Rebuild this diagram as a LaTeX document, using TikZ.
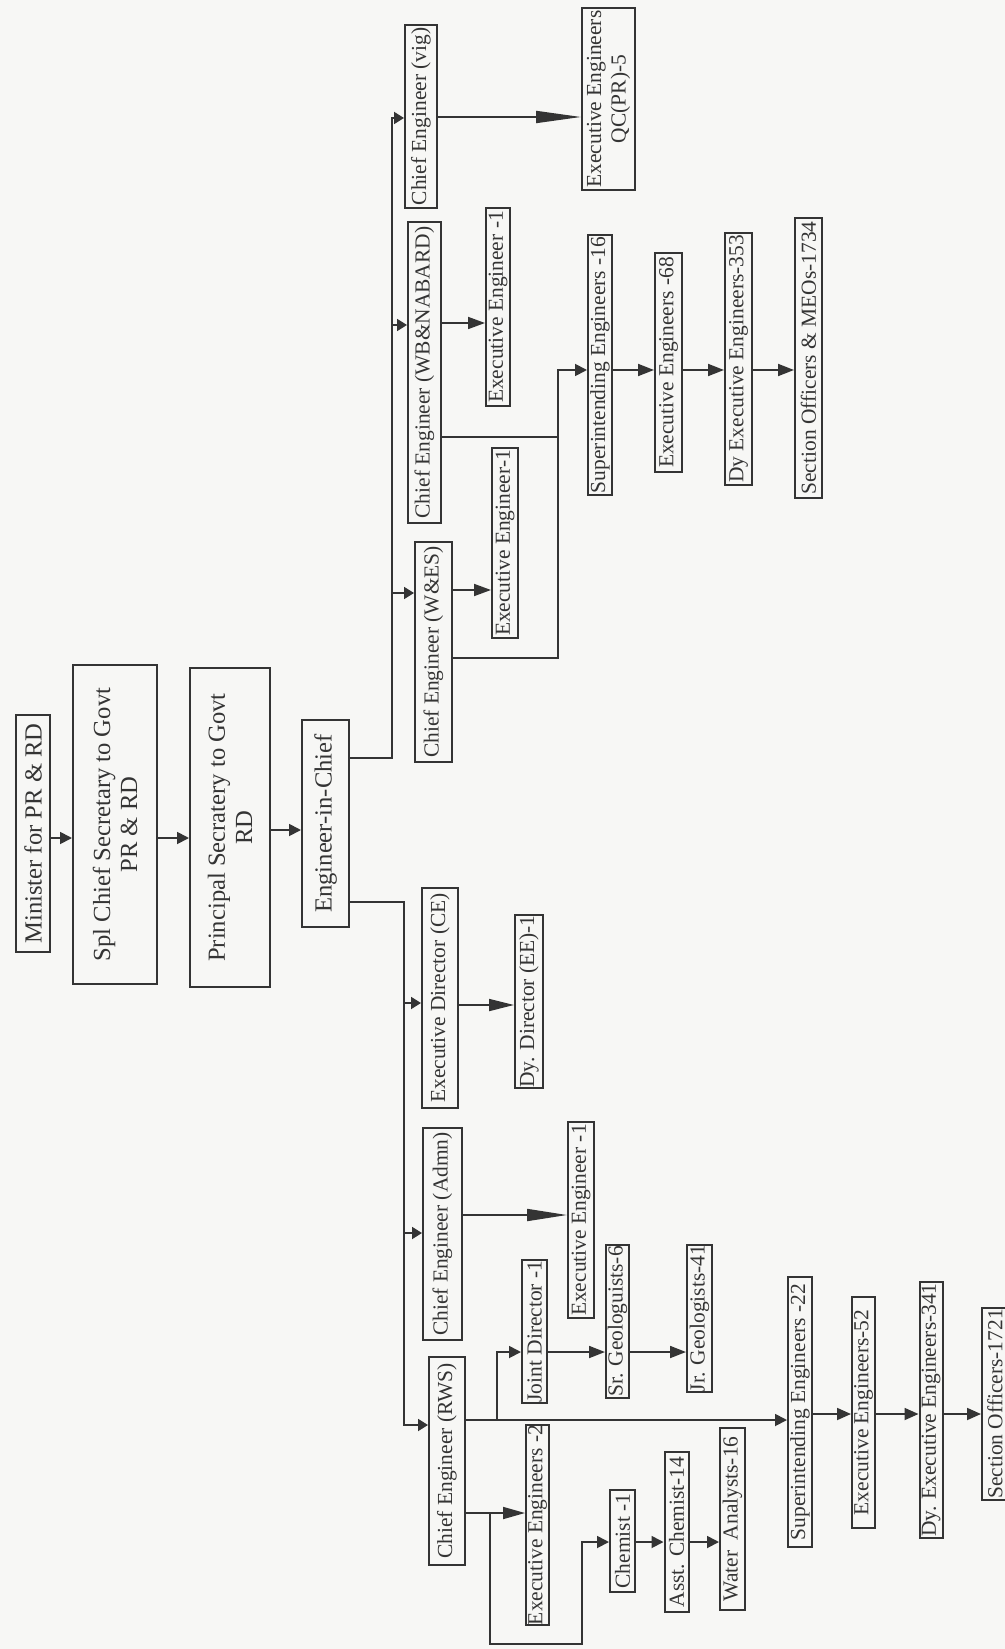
\documentclass[tikz,border=0pt]{standalone}
\usepackage{fontspec}
\setmainfont{Liberation Serif}
\usepackage{tikz}
\usetikzlibrary{arrows.meta}
\definecolor{ink}{RGB}{52,52,52}
\definecolor{paper}{RGB}{247,247,245}

\begin{document}
\begin{tikzpicture}[
    box/.style 2 args={draw=ink,line width=0.2mm,rotate=90,inner sep=0pt,align=center,text=ink,
      minimum width=#1mm,minimum height=#2mm,font=\fontsize{6.1}{7}\selectfont},
    top/.style={font=\fontsize{7}{7.7}\selectfont},
    conn/.style={draw=ink,line width=0.18mm,-{Triangle[length=#1,width=1.2mm]}},
    conn/.default=1.2mm,
    wire/.style={draw=ink,line width=0.18mm}
  ]
  \path[use as bounding box,clip] (0,0) rectangle (10.05,-16.49);
  \fill[paper] (0,0) rectangle (10.05,-16.49);

  \node[box={23.7}{3.4},top] (min)  at (0.33,-8.335) {Minister for PR \& RD};
  \node[box={31.9}{8.4},top] (spl)  at (1.15,-8.245) {Spl Chief Secretary to Govt\\PR \& RD};
  \node[box={31.9}{8.0},top] (prin) at (2.30,-8.275) {Principal Secratery to Govt\\RD};
  \node[box={20.7}{4.7},top] (eic)  at (3.255,-8.235) {Engineer-in-Chief};

  \node[box={18.3}{3.2}] (vig)    at (4.21,-1.165) {Chief Engineer (vig)};
  \node[box={18.2}{5.3}] (qc)     at (6.085,-0.99) {Executive Engineers\\QC(PR)-5};
  \node[box={30.1}{3.3}] (wb)     at (4.245,-3.725) {Chief Engineer (WB\&NABARD)};
  \node[box={19.8}{2.4}] (wbee)   at (4.98,-3.07) {Executive Engineer -1};
  \node[box={22.0}{3.7}] (wes)    at (4.335,-6.52) {Chief Engineer (W\&ES)};
  \node[box={19.0}{2.6}] (wesee)  at (5.05,-5.43) {Executive Engineer-1};
  \node[box={26.0}{2.4}] (se16)   at (6.00,-3.65) {Superintending Engineers -16};
  \node[box={21.9}{2.7}] (ee68)   at (6.685,-3.625) {Executive Engineers -68};
  \node[box={25.2}{2.7}] (dee353) at (7.385,-3.59) {Dy Executive Engineers-353};
  \node[box={28.0}{2.7}] (so1734) at (8.085,-3.58) {Section Officers \& MEOs-1734};

  \node[box={22.0}{3.6}] (ed)     at (4.40,-9.98) {Executive Director (CE)};
  \node[box={17.3}{2.8}] (dd)     at (5.29,-10.015) {Dy. Director (EE)-1};
  \node[box={21.2}{3.9}] (adm)    at (4.425,-12.34) {Chief Engineer (Admn)};
  \node[box={19.6}{2.6}] (admee)  at (5.81,-12.20) {Executive Engineer -1};
  \node[box={20.8}{3.6}] (rws)    at (4.47,-14.61) {Chief Engineer (RWS)};
  \node[box={14.3}{2.5}] (jd)     at (5.345,-13.315) {Joint Director -1};
  \node[box={15.3}{2.3}] (srg)    at (6.175,-13.215) {Sr. Geologuists-6};
  \node[box={14.3}{2.5}] (jrg)    at (6.995,-13.185) {Jr. Geologists-41};
  \node[box={20.0}{2.3}] (ee2)    at (5.375,-15.25) {Executive Engineers -2};
  \node[box={10.2}{2.5}] (chem)   at (6.225,-15.41) {Chemist -1};
  \node[box={16.0}{2.4}] (asst)   at (6.765,-15.32) {Asst. Chemist-14};
  \node[box={18.2}{2.5}] (wa)     at (7.325,-15.19) {Water\ \ Analysts-16};
  \node[box={27.0}{2.4}] (se22)   at (8.00,-14.12) {Superintending Engineers -22};
  \node[box={23.1}{2.3}] (ee52)   at (8.635,-14.125) {Executive Engineers-52};
  \node[box={25.6}{2.3}] (dee341) at (9.31,-14.10) {Dy. Executive Engineers-341};
  \node[box={19.2}{2.6}] (so1721) at (9.95,-14.04) {Section Officers-1721};

  \draw[conn] (min.south |- 0,-8.38) -- (spl.north |- 0,-8.38);
  \draw[conn] (spl.south |- 0,-8.38) -- (prin.north |- 0,-8.38);
  \draw[conn] (prin.south |- 0,-8.30) -- (eic.north |- 0,-8.30);

  \coordinate (topj) at (3.92,-1.18);
  \draw[conn=1mm] (eic.south |- 0,-7.58) -| (topj) -- (vig.north |- topj);
  \draw[conn=1mm] (topj |- 0,-3.25) -- (wb.north |- 0,-3.25);
  \draw[conn=1mm] (topj |- 0,-5.93) -- (wes.north |- 0,-5.93);

  \coordinate (botj) at (4.04,-14.25);
  \draw[conn=1mm] (eic.south |- 0,-9.02) -| (botj) -- (rws.north |- botj);
  \draw[conn=1mm] (botj |- 0,-10.03) -- (ed.north |- 0,-10.03);
  \draw[conn=1mm] (botj |- 0,-12.33) -- (adm.north |- 0,-12.33);

  \draw[conn=4.5mm] (vig.south |- 0,-1.17) -- (qc.north |- 0,-1.17);
  \draw[conn=1.7mm] (wb.south |- 0,-3.23) -- (wbee.north |- 0,-3.23);
  \draw[conn=1.7mm] (wes.south |- 0,-5.90) -- (wesee.north |- 0,-5.90);
  \coordinate (sej) at (5.58,-3.70);
  \draw[conn] (wes.south |- 0,-6.58) -| (sej) -- (se16.north |- sej);
  \draw[wire] (wb.south |- 0,-4.37) -- (sej |- 0,-4.37);
  \draw[conn=1.6mm] (se16.south |- sej) -- (ee68.north |- sej);
  \draw[conn=1.6mm] (ee68.south |- sej) -- (dee353.north |- sej);
  \draw[conn=1.6mm] (dee353.south |- sej) -- (so1734.north |- sej);

  \draw[conn=2.5mm] (ed.south |- 0,-10.05) -- (dd.north |- 0,-10.05);
  \draw[conn=4mm] (adm.south |- 0,-12.15) -- (admee.north |- 0,-12.15);

  \coordinate (jdj) at (4.97,-13.52);
  \draw[conn] (rws.south |- 0,-14.20) -- (se22.north |- 0,-14.20);
  \draw[conn] (jdj |- 0,-14.20) -- (jdj) -- (jd.north |- jdj);
  \draw[conn=1.6mm] (jd.south |- jdj) -- (srg.north |- jdj);
  \draw[conn=1.6mm] (srg.south |- jdj) -- (jrg.north |- jdj);

  \draw[conn=2.2mm] (rws.south |- 0,-15.13) -- (ee2.north |- 0,-15.13);
  \coordinate (eej) at (4.90,-15.13);
  \coordinate (lowj) at (5.82,-16.44);
  \coordinate (chj) at (5.82,-15.42);
  \draw[conn] (eej) |- (lowj) -- (chj) -- (chem.north |- chj);
  \draw[conn] (chem.south |- chj) -- (asst.north |- chj);
  \draw[conn] (asst.south |- chj) -- (wa.north |- chj);

  \draw[conn=1.4mm] (se22.south |- 0,-14.14) -- (ee52.north |- 0,-14.14);
  \draw[conn=1.4mm] (ee52.south |- 0,-14.14) -- (dee341.north |- 0,-14.14);
  \draw[conn=1.4mm] (dee341.south |- 0,-14.14) -- (so1721.north |- 0,-14.14);
\end{tikzpicture}
\end{document}
